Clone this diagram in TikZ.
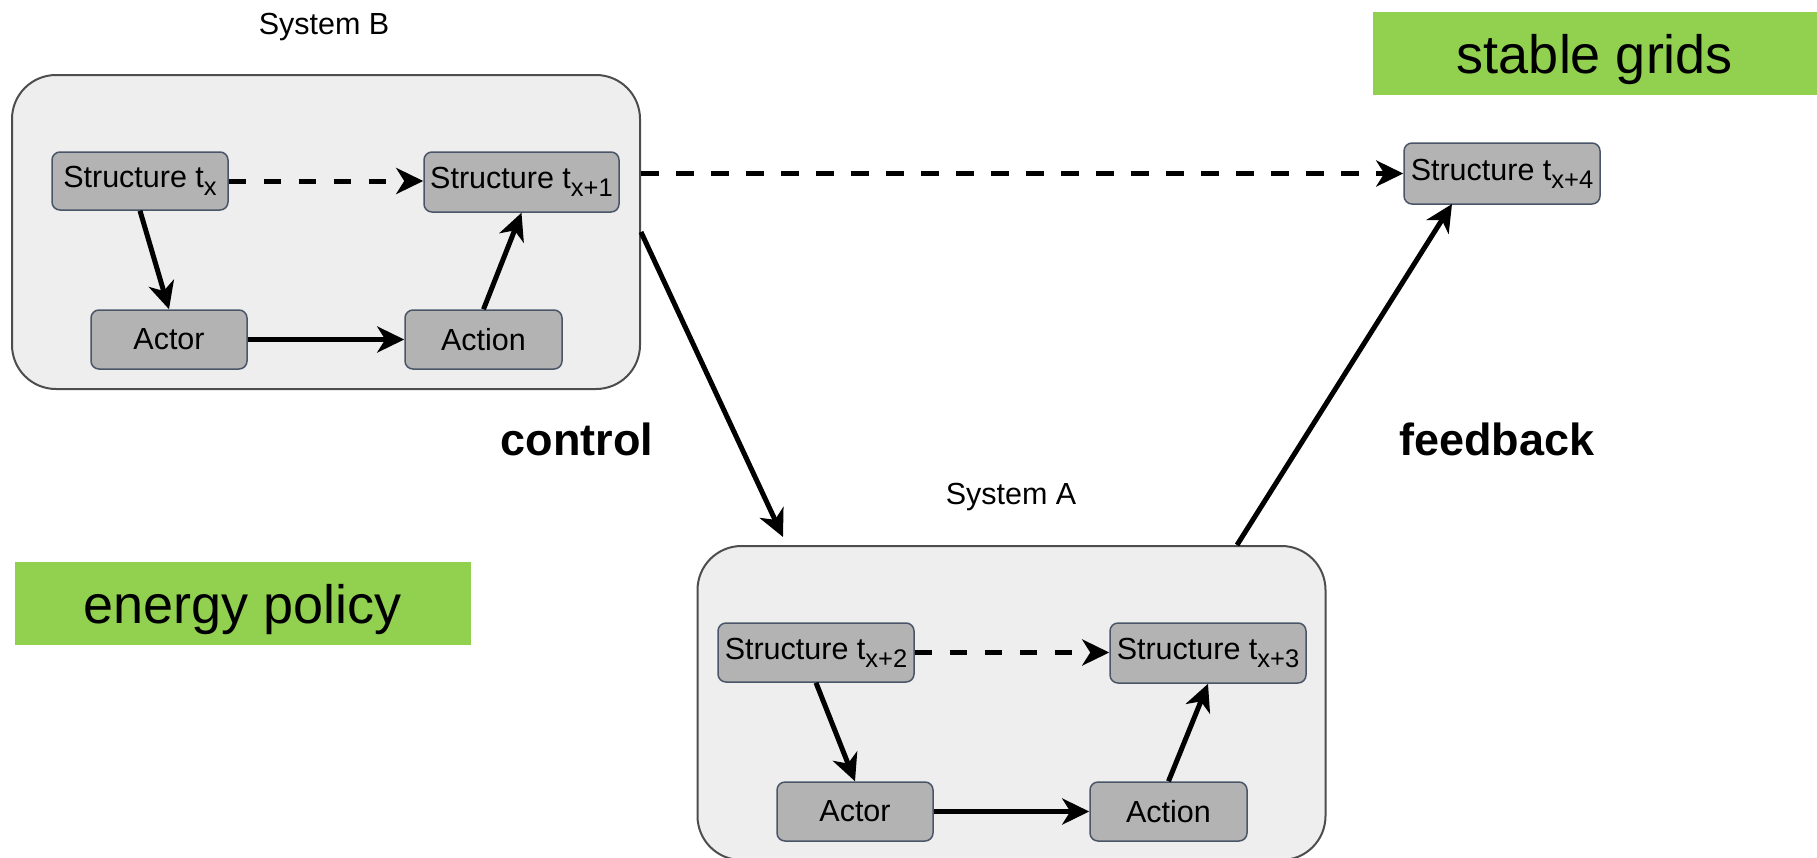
\documentclass[tikz,border=0pt]{standalone}
\usepackage{fontspec}
\setmainfont{Liberation Sans}
\usetikzlibrary{arrows.meta,calc}

\definecolor{panelfill}{HTML}{EEEEEE}
\definecolor{paneldraw}{HTML}{4D4D4D}
\definecolor{cellfill}{HTML}{B3B3B3}
\definecolor{celldraw}{HTML}{4A5668}
\definecolor{tagfill}{HTML}{92D050}

% "t" with a lowered index, as in Structure t_{x+1}
\newcommand\stamp[1]{t\raisebox{-8pt}{\fontsize{25.5}{26}\selectfont #1}}

\tikzset{
  panel/.style={draw=paneldraw, line width=2pt, fill=panelfill,
    rounded corners=44pt, inner sep=0pt},
  cell/.style={draw=celldraw, line width=1.5pt, fill=cellfill,
    rounded corners=8pt, inner sep=0pt, font=\fontsize{30.5}{36}\selectfont},
  tag/.style={fill=tagfill, inner sep=0pt, text height=39pt, text depth=0pt,
    font=\fontsize{54}{60}\selectfont},
  flow/.style={line width=5pt, -{Stealth[length=27pt,width=26pt,inset=8pt]}},
  later/.style={flow, dash pattern=on 17.5pt off 17.5pt},
  caption/.style={font=\fontsize{30.5}{36}\selectfont, anchor=base},
  relation/.style={font=\bfseries\fontsize{45}{50}\selectfont, anchor=base},
}

\begin{document}
\begin{tikzpicture}[x=1pt, y=-1pt]
  \useasboundingbox (0,0) rectangle (1817,857);
  \clip (0,0) rectangle (1817,857);

  % goal and driver tags
  \node[tag, minimum width=444pt, minimum height=83pt] (grids) at (1595,53.5) {stable grids};
  \node[tag, minimum width=456pt, minimum height=83pt] (policy) at (243,603.5) {energy policy};

  % System B
  \node[caption] (labelB) at (324,34.5) {System B};
  \node[panel, minimum width=628pt, minimum height=314pt] (sysB) at (326,232) {};
  \node[cell, minimum width=176pt, minimum height=58pt] (tx)  at (140,181) {Structure \stamp{x}};
  \node[cell, minimum width=195pt, minimum height=60pt] (tx1) at (521.5,182) {Structure \stamp{x+1}};
  \node[cell, minimum width=156pt, minimum height=59pt] (actorB)  at (169,339.5) {Actor};
  \node[cell, minimum width=157pt, minimum height=59pt] (actionB) at (483.5,339.5) {Action};

  \draw[flow]  (tx.south) -- (actorB.north);
  \draw[flow]  (actorB.east) -- (actionB.west);
  \draw[flow]  (actionB.north) -- (tx1.south);
  \draw[later] (tx.east) -- (tx.east -| tx1.west);

  % System A
  \node[caption] (labelA) at (1011,504) {System A};
  \node[panel, minimum width=628pt, minimum height=314pt] (sysA) at (1011.5,703) {};
  \node[cell, minimum width=196pt, minimum height=59pt] (tx2) at (816,652.5) {Structure \stamp{x+2}};
  \node[cell, minimum width=196pt, minimum height=60pt] (tx3) at (1208,653) {Structure \stamp{x+3}};
  \node[cell, minimum width=156pt, minimum height=59pt] (actorA)  at (855,811.5) {Actor};
  \node[cell, minimum width=157pt, minimum height=59pt] (actionA) at (1168.5,811.5) {Action};

  \draw[flow]  (tx2.south) -- (actorA.north);
  \draw[flow]  (actorA.east) -- (actionA.west);
  \draw[flow]  (actionA.north) -- (tx3.south);
  \draw[later] (tx2.east) -- (tx2.east -| tx3.west);

  % resulting structure
  \node[cell, minimum width=196pt, minimum height=61pt] (tx4) at (1502,173.5) {Structure \stamp{x+4}};

  % links between the systems
  \coordinate (ctrltip) at (783,537);
  \coordinate (fbfoot) at (1237,545);
  \coordinate (fbtip)  at (1452,204);
  \draw[later] (sysB.east |- tx4.west) -- (tx4.west);
  \draw[flow]  (sysB.east) -- (ctrltip);
  \draw[flow]  (fbfoot) -- (fbtip);

  \node[relation] (control)  at (577,455)  {control};
  \node[relation] (feedback) at (1497,455) {feedback};
\end{tikzpicture}
\end{document}
